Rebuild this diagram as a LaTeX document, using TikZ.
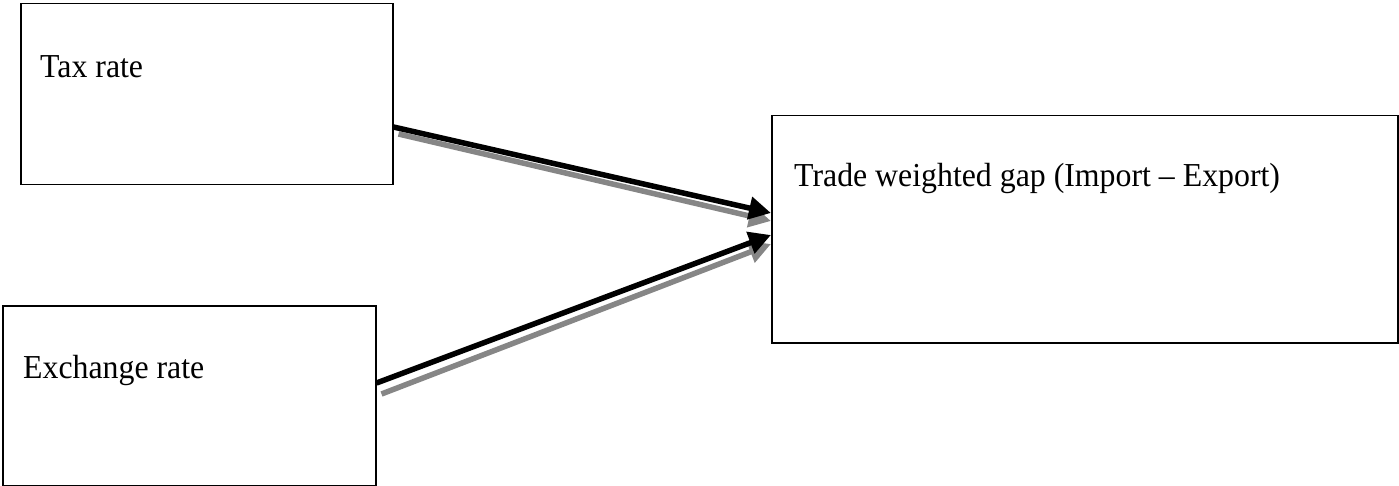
\documentclass[tikz,border=0pt]{standalone}
\usepackage{fontspec}
\setmainfont{Liberation Serif}
\usetikzlibrary{arrows.meta,calc}
\newcommand{\squeezetext}[1]{\scalebox{0.95}[1]{#1}}
\begin{document}
\begin{tikzpicture}[x=1pt,y=-1pt,
  box/.style={draw=black,line width=1.5pt,rectangle,inner sep=0pt,anchor=north west},
  lbl/.style={anchor=base west,inner sep=0pt,font=\fontsize{33.5}{39}\selectfont},
  blackarrow/.style={draw=black,line width=5.5pt,-{Triangle[length=22pt,width=22pt]}},
  grayarrow/.style={draw=gray!95,line width=5.5pt,-{Triangle[length=22pt,width=22pt]}}]
\useasboundingbox (0,0) rectangle (1399,486);
\node[box,minimum width=372pt,minimum height=181pt] (tax) at (20,3) {};
\node[box,minimum width=373pt,minimum height=180pt] (exch) at (2,305) {};
\node[box,minimum width=626pt,minimum height=227pt] (gap) at (771,115) {};
\node[lbl] (taxt) at (40,78) {\squeezetext{Tax rate}};
\node[lbl] (excht) at (23,378) {\squeezetext{Exchange rate}};
\node[lbl] (gapt) at (794,187) {\squeezetext{Trade weighted gap (Import -- Export)}};
\coordinate (t1) at ($(tax.north east)+(0,124)$);
\coordinate (t2) at ($(tax.north east)+(5,131)$);
\coordinate (e1) at ($(exch.north east)+(0,78)$);
\coordinate (e2) at ($(exch.north east)+(5,89)$);
\coordinate (g1) at ($(gap.north west)+(0,98)$);
\coordinate (g2) at ($(gap.north west)+(0,106)$);
\coordinate (g3) at ($(gap.north west)+(0,120)$);
\coordinate (g4) at ($(gap.north west)+(0,129)$);
\draw[grayarrow] (t2) -- (g2);
\draw[grayarrow] (e2) -- (g4);
\draw[blackarrow] (t1) -- (g1);
\draw[blackarrow] (e1) -- (g3);
\end{tikzpicture}
\end{document}
